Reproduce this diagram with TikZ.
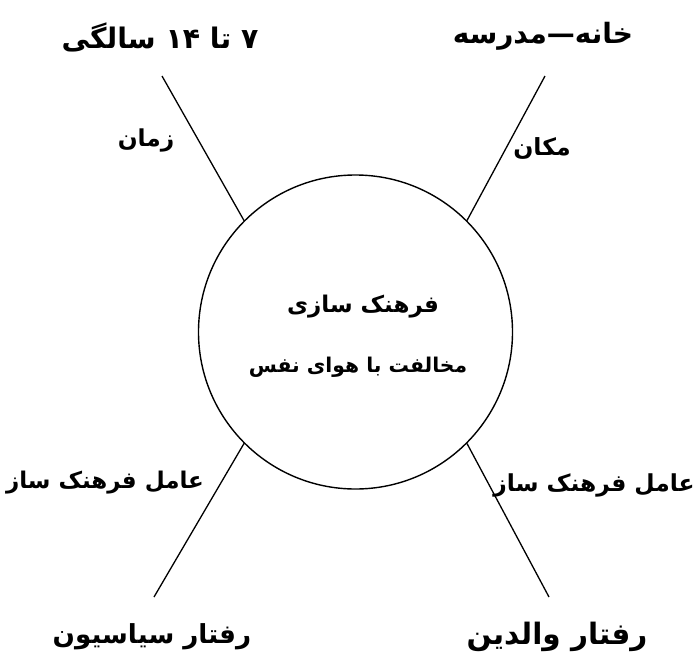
\documentclass[tikz,border=0pt]{standalone}
\usepackage{fontspec}
\newfontfamily\arabicfont[Script=Arabic]{DejaVu Sans}
\TeXXeTstate=1
\newcommand{\fsz}[1]{\fontsize{#1}{#1}\selectfont}
\tikzset{
  lbl/.style={inner sep=0pt, text=black, font=\arabicfont\bfseries},
  spoke/.style={draw=black, line width=1.3pt},
  hub/.style={circle, draw=black, line width=1.4pt, minimum size=314pt, inner sep=0pt}
}
\begin{document}
\begin{tikzpicture}[x=1pt,y=-1pt]
\useasboundingbox[fill=white] (0,0) rectangle (697,662);
\node[hub] (c) at (355.5,332) {};
\coordinate (tl) at (162,76);
\coordinate (tr) at (545,76);
\coordinate (bl) at (154,597);
\coordinate (br) at (549,597);
\draw[spoke] (c.135) -- (tl);
\draw[spoke] (c.45) -- (tr);
\draw[spoke] (c.225) -- (bl);
\draw[spoke] (c.315) -- (br);
\node[lbl] (t1) at (160,37) {\fsz{28.3}\beginR ۷ تا \beginL ۱۴\endL{} سالگی\endR};
\node[lbl] (t2) at (543,36) {\fsz{28}\beginR خانه—مدرسه\endR};
\node[lbl] (l1) at (146,140) {\fsz{23.3}\beginR زمان\endR};
\node[lbl] (l2) at (542,148) {\fsz{23.6}\beginR مکان\endR};
\node[lbl] (m1) at (363,307) {\fsz{23}\beginR فرهنک سازی\endR};
\node[lbl] (m2) at (358,367) {\fsz{20.3}\beginR مخالفت با هوای نفس\endR};
\node[lbl] (l3) at (105,483) {\fsz{23}\beginR عامل فرهنک ساز\endR};
\node[lbl] (l4) at (594,485) {\fsz{23.4}\beginR عامل فرهنک ساز\endR};
\node[lbl] (b1) at (152,637) {\fsz{26.2}\beginR رفتار سیاسیون\endR};
\node[lbl] (b2) at (557,637) {\fsz{29.5}\beginR رفتار والدین\endR};
\end{tikzpicture}
\end{document}
